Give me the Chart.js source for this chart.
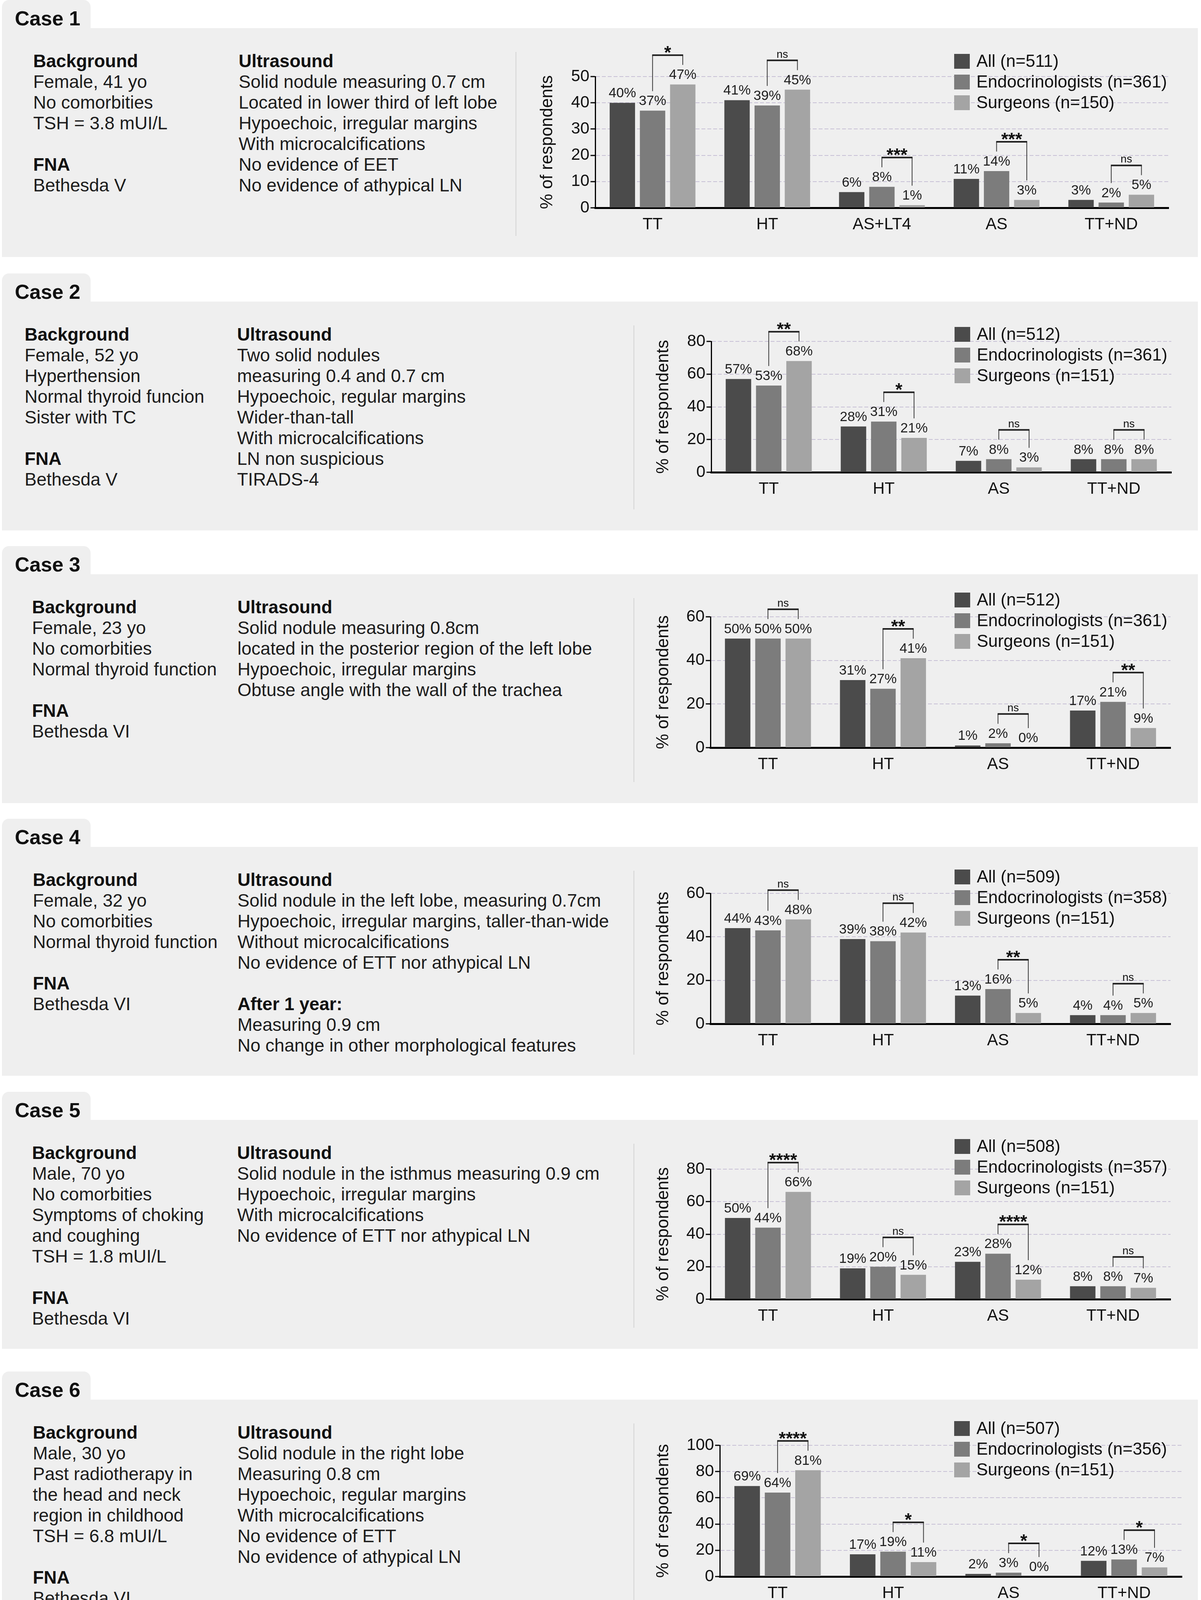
<!DOCTYPE html>
<html>
<head>
<meta charset="utf-8">
<script src="https://cdn.jsdelivr.net/npm/chart.js@4.4.0/dist/chart.umd.min.js"></script>
<style>
html,body{margin:0;padding:0;background:#ffffff;}
#page{position:relative;width:3075px;height:4174px;overflow:hidden;font-family:"Liberation Sans",Arial,Helvetica,sans-serif;color:#1a1a1a;}
.tab{position:absolute;left:5px;width:227px;height:74px;background:#efefef;border-radius:18px 18px 0 0;}
.tabtxt{position:absolute;left:38px;font-weight:bold;font-size:52px;line-height:52px;color:#111;white-space:pre;}
.panel{position:absolute;left:5px;width:3062px;background:#efefef;}
.col{position:absolute;font-size:46px;line-height:53px;white-space:pre;color:#1c1c1c;}
.col div{height:53px;}
.b{font-weight:bold;color:#111;}
.sep{position:absolute;width:2px;background:#d4d4d4;}
canvas{position:absolute;}
</style>
</head>
<body>
<div id="page"></div>
<script>
// ---------------- DATA ----------------
const categories5 = ['TT', 'HT', 'AS+LT4', 'AS', 'TT+ND'];
const categories4 = ['TT', 'HT', 'AS', 'TT+ND'];
const groupLabels = ['All', 'Endocrinologists', 'Surgeons'];
const yTitle = '% of respondents';

const case1All  = [40, 41, 6, 11, 3];
const case1Endo = [37, 39, 8, 14, 2];
const case1Surg = [47, 45, 1, 3, 5];
const case1N    = [511, 361, 150];
const case1Sig  = ['*', 'ns', '***', '***', 'ns'];
const case1Ticks = [0, 10, 20, 30, 40, 50];

const case2All  = [57, 28, 7, 8];
const case2Endo = [53, 31, 8, 8];
const case2Surg = [68, 21, 3, 8];
const case2N    = [512, 361, 151];
const case2Sig  = ['**', '*', 'ns', 'ns'];
const case2Ticks = [0, 20, 40, 60, 80];

const case3All  = [50, 31, 1, 17];
const case3Endo = [50, 27, 2, 21];
const case3Surg = [50, 41, 0, 9];
const case3N    = [512, 361, 151];
const case3Sig  = ['ns', '**', 'ns', '**'];
const case3Ticks = [0, 20, 40, 60];

const case4All  = [44, 39, 13, 4];
const case4Endo = [43, 38, 16, 4];
const case4Surg = [48, 42, 5, 5];
const case4N    = [509, 358, 151];
const case4Sig  = ['ns', 'ns', '**', 'ns'];
const case4Ticks = [0, 20, 40, 60];

const case5All  = [50, 19, 23, 8];
const case5Endo = [44, 20, 28, 8];
const case5Surg = [66, 15, 12, 7];
const case5N    = [508, 357, 151];
const case5Sig  = ['****', 'ns', '****', 'ns'];
const case5Ticks = [0, 20, 40, 60, 80];

const case6All  = [69, 17, 2, 12];
const case6Endo = [64, 19, 3, 13];
const case6Surg = [81, 11, 0, 7];
const case6N    = [507, 356, 151];
const case6Sig  = ['****', '*', '*', '*'];
const case6Ticks = [0, 20, 40, 60, 80, 100];

// ---------------- TEXT ----------------
const case1Background = ['Female, 41 yo', 'No comorbities', 'TSH = 3.8 mUI/L'];
const case1FNA = ['Bethesda V'];
const case1Ultrasound = ['Solid nodule measuring 0.7 cm', 'Located in lower third of left lobe', 'Hypoechoic, irregular margins', 'With microcalcifications', 'No evidence of EET', 'No evidence of athypical LN'];

const case2Background = ['Female, 52 yo', 'Hyperthension', 'Normal thyroid funcion', 'Sister with TC'];
const case2FNA = ['Bethesda V'];
const case2Ultrasound = ['Two solid nodules', 'measuring 0.4 and 0.7 cm', 'Hypoechoic, regular margins', 'Wider-than-tall', 'With microcalcifications', 'LN non suspicious', 'TIRADS-4'];

const case3Background = ['Female, 23 yo', 'No comorbities', 'Normal thyroid function'];
const case3FNA = ['Bethesda VI'];
const case3Ultrasound = ['Solid nodule measuring 0.8cm', 'located in the posterior region of the left lobe', 'Hypoechoic, irregular margins', 'Obtuse angle with the wall of the trachea'];

const case4Background = ['Female, 32 yo', 'No comorbities', 'Normal thyroid function'];
const case4FNA = ['Bethesda VI'];
const case4Ultrasound = ['Solid nodule in the left lobe, measuring 0.7cm', 'Hypoechoic, irregular margins, taller-than-wide', 'Without microcalcifications', 'No evidence of ETT nor athypical LN'];
const case4After = ['Measuring 0.9 cm', 'No change in other morphological features'];

const case5Background = ['Male, 70 yo', 'No comorbities', 'Symptoms of choking', 'and coughing', 'TSH = 1.8 mUI/L'];
const case5FNA = ['Bethesda VI'];
const case5Ultrasound = ['Solid nodule in the isthmus measuring 0.9 cm', 'Hypoechoic, irregular margins', 'With microcalcifications', 'No evidence of ETT nor athypical LN'];

const case6Background = ['Male, 30 yo', 'Past radiotherapy in', 'the head and neck', 'region in childhood', 'TSH = 6.8 mUI/L'];
const case6FNA = ['Bethesda VI'];
const case6Ultrasound = ['Solid nodule in the right lobe', 'Measuring 0.8 cm', 'Hypoechoic, regular margins', 'With microcalcifications', 'No evidence of ETT', 'No evidence of athypical LN'];

// ---------------- LAYOUT / STYLE ----------------
const FONT = '"Liberation Sans", Arial, Helvetica, sans-serif';
const barColors = ['#4b4b4b', '#7c7c7c', '#a4a4a4'];
const panelTops = [72, 772, 1470, 2168, 2867, 3583];
const panelHeight = 586;
const bgX = [85, 63, 82, 84, 82, 84];
const usX = [611, 607, 608, 608, 607, 608];
const sepX = [1320, 1622, 1622, 1622, 1622, 1622];
const chartBoxes = [
  {L:1340, T:80,   R:3060, B:650,  axisX:1524, plotTop:196,  plotBottom:532,  plotRight:2992, titleX:1402, legendX:2443, legendY:157},
  {L:1640, T:780,  R:3060, B:1350, axisX:1821, plotTop:874,  plotBottom:1209, plotRight:2999, titleX:1699, legendX:2444, legendY:856},
  {L:1640, T:1478, R:3060, B:2048, axisX:1819, plotTop:1579, plotBottom:1914, plotRight:2997, titleX:1699, legendX:2444, legendY:1536},
  {L:1640, T:2176, R:3060, B:2746, axisX:1819, plotTop:2287, plotBottom:2621, plotRight:2997, titleX:1699, legendX:2444, legendY:2245},
  {L:1640, T:2875, R:3060, B:3445, axisX:1819, plotTop:2993, plotBottom:3326, plotRight:2997, titleX:1699, legendX:2444, legendY:2935},
  {L:1640, T:3591, R:3060, B:4160, axisX:1843, plotTop:3700, plotBottom:4036, plotRight:3026, titleX:1699, legendX:2443, legendY:3657}
];

const page = document.getElementById('page');

function addDiv(cls, css, text) {
  const d = document.createElement('div');
  d.className = cls;
  Object.assign(d.style, css);
  if (text !== undefined) d.textContent = text;
  page.appendChild(d);
  return d;
}

function addColumn(x, y, lines) {
  const col = addDiv('col', {left: x + 'px', top: y + 'px'});
  lines.forEach(l => {
    const r = document.createElement('div');
    if (l.bold) r.className = 'b';
    r.textContent = l.text;
    col.appendChild(r);
  });
}

function buildCase(i, background, fna, ultrasound, afterYear) {
  const top = panelTops[i];
  addDiv('tab', {top: (top - 72) + 'px'});
  addDiv('panel', {top: top + 'px', height: panelHeight + 'px'});
  addDiv('tabtxt', {top: (top - 51) + 'px'}, 'Case ' + (i + 1));
  const left = [{text: 'Background', bold: true}]
    .concat(background.map(t => ({text: t})))
    .concat([{text: ''}, {text: 'FNA', bold: true}])
    .concat(fna.map(t => ({text: t})));
  addColumn(bgX[i], top + 58, left);
  let right = [{text: 'Ultrasound', bold: true}].concat(ultrasound.map(t => ({text: t})));
  if (afterYear) {
    right = right.concat([{text: ''}, {text: 'After 1 year:', bold: true}]).concat(afterYear.map(t => ({text: t})));
  }
  addColumn(usX[i], top + 58, right);
  addDiv('sep', {left: sepX[i] + 'px', top: (top + 61) + 'px', height: (panelHeight - 115) + 'px'});
}

const overlayPlugin = {
  id: 'overlay',
  afterDraw(chart, args, opts) {
    const ctx = chart.ctx;
    ctx.save();
    // value labels
    chart.data.datasets.forEach((ds, i) => {
      const meta = chart.getDatasetMeta(i);
      meta.data.forEach((bar, j) => {
        ctx.font = '35px ' + FONT;
        ctx.fillStyle = '#1e1e1e';
        ctx.textAlign = 'center';
        ctx.textBaseline = 'alphabetic';
        ctx.fillText(ds.data[j] + '%', bar.x, bar.y - 14);
      });
    });
    // significance brackets (Endocrinologists vs Surgeons)
    const m1 = chart.getDatasetMeta(1), m2 = chart.getDatasetMeta(2);
    opts.sig.forEach((s, j) => {
      const a = m1.data[j], b = m2.data[j];
      const by = Math.min(a.y, b.y) - 75;
      ctx.strokeStyle = '#3a3a3a';
      ctx.lineWidth = 2;
      [a, b].forEach(e => {
        const yb = Math.max(by + 10, e.y - 50);
        ctx.beginPath(); ctx.moveTo(e.x, by); ctx.lineTo(e.x, yb); ctx.stroke();
      });
      ctx.strokeStyle = '#1e1e1e';
      ctx.lineWidth = 4;
      ctx.beginPath(); ctx.moveTo(a.x - 1, by); ctx.lineTo(b.x + 1, by); ctx.stroke();
      const cx = (a.x + b.x) / 2;
      ctx.fillStyle = '#111';
      ctx.textAlign = 'center';
      ctx.textBaseline = 'alphabetic';
      if (s === 'ns') {
        ctx.font = '28px ' + FONT;
        ctx.fillText(s, cx, by - 7);
      } else {
        ctx.font = 'bold 46px ' + FONT;
        ctx.fillText(s, cx, by + 9);
      }
    });
    // legend
    chart.data.datasets.forEach((ds, i) => {
      const cy = opts.legendY + i * 53;
      ctx.fillStyle = ds.backgroundColor;
      ctx.fillRect(opts.legendX, cy - 19, 40, 38);
      ctx.fillStyle = '#111';
      ctx.font = '44px ' + FONT;
      ctx.textAlign = 'left';
      ctx.textBaseline = 'middle';
      ctx.fillText(ds.label, opts.legendX + 57, cy + 2);
    });
    ctx.restore();
  }
};

function buildChart(i, cats, all, endo, surg, n, sig, ticks) {
  const box = chartBoxes[i];
  const W = box.R - box.L, H = box.B - box.T;
  const canvas = document.createElement('canvas');
  canvas.width = W; canvas.height = H;
  canvas.style.left = box.L + 'px';
  canvas.style.top = box.T + 'px';
  canvas.style.width = W + 'px';
  canvas.style.height = H + 'px';
  page.appendChild(canvas);
  const yW = box.axisX - box.L;
  const xH = box.B - box.plotBottom;
  const series = [all, endo, surg];
  new Chart(canvas, {
    type: 'bar',
    data: {
      labels: cats,
      datasets: series.map((d, k) => ({
        label: groupLabels[k] + ' (n=' + n[k] + ')',
        data: d,
        backgroundColor: barColors[k],
        borderWidth: 0,
        categoryPercentage: 0.79,
        barPercentage: 0.84
      }))
    },
    options: {
      responsive: false,
      animation: false,
      events: [],
      layout: {padding: {top: box.plotTop - box.T, right: box.R - box.plotRight, left: 0, bottom: 0}},
      plugins: {
        legend: {display: false},
        tooltip: {enabled: false},
        overlay: {sig: sig, legendX: box.legendX - box.L, legendY: box.legendY - box.T}
      },
      scales: {
        x: {
          z: 1,
          grid: {display: false, drawTicks: false},
          border: {display: true, color: '#000', width: 5},
          ticks: {font: {size: 42, family: FONT, lineHeight: 1}, color: '#111', padding: 22},
          afterFit: s => { s.height = xH; }
        },
        y: {
          min: ticks[0],
          max: ticks[ticks.length - 1],
          ticks: {stepSize: ticks[1] - ticks[0], font: {size: 42, family: FONT}, color: '#111', padding: 3},
          grid: {color: 'rgba(178,168,200,0.65)', lineWidth: 2, tickColor: '#000', tickWidth: 3, tickLength: 12},
          border: {display: true, color: '#000', width: 3, dash: [10, 5]},
          title: {display: true, text: yTitle, color: '#111', font: {size: 44, family: FONT, lineHeight: 1},
                  padding: {top: box.titleX - box.L - 22, bottom: 0}},
          afterFit: s => { s.width = yW; }
        }
      }
    },
    plugins: [overlayPlugin]
  });
}

buildCase(0, case1Background, case1FNA, case1Ultrasound);
buildCase(1, case2Background, case2FNA, case2Ultrasound);
buildCase(2, case3Background, case3FNA, case3Ultrasound);
buildCase(3, case4Background, case4FNA, case4Ultrasound, case4After);
buildCase(4, case5Background, case5FNA, case5Ultrasound);
buildCase(5, case6Background, case6FNA, case6Ultrasound);

buildChart(0, categories5, case1All, case1Endo, case1Surg, case1N, case1Sig, case1Ticks);
buildChart(1, categories4, case2All, case2Endo, case2Surg, case2N, case2Sig, case2Ticks);
buildChart(2, categories4, case3All, case3Endo, case3Surg, case3N, case3Sig, case3Ticks);
buildChart(3, categories4, case4All, case4Endo, case4Surg, case4N, case4Sig, case4Ticks);
buildChart(4, categories4, case5All, case5Endo, case5Surg, case5N, case5Sig, case5Ticks);
buildChart(5, categories4, case6All, case6Endo, case6Surg, case6N, case6Sig, case6Ticks);
</script>
</body>
</html>
